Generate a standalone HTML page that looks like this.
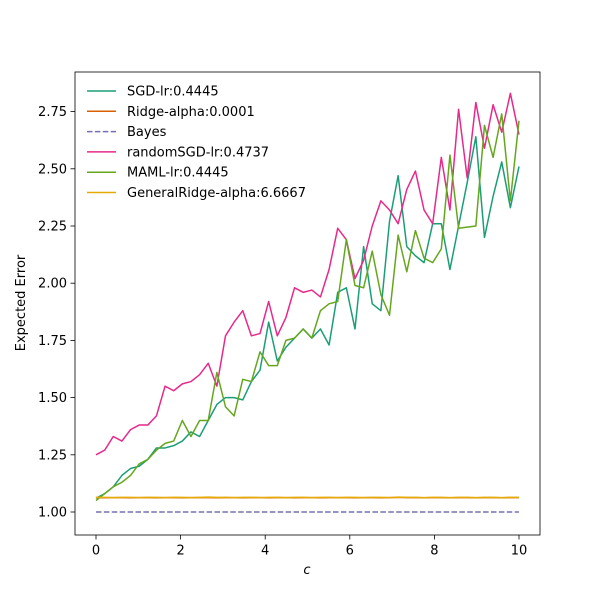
<!DOCTYPE html>
<html><head><meta charset="utf-8"><style>
html,body{margin:0;padding:0;background:#fff;}
svg{display:block;font-family:"DejaVu Sans","Liberation Sans",sans-serif;}
</style></head><body>
<svg id="chart" width="600" height="600"></svg>
<script>
const xMin=0,xMax=10,nPts=50;
const sgd=[1.06,1.08,1.11,1.16,1.19,1.20,1.23,1.28,1.28,1.29,1.31,1.35,1.33,1.40,1.47,1.50,1.50,1.49,1.57,1.62,1.83,1.66,1.72,1.76,1.80,1.76,1.80,1.73,1.96,1.98,1.80,2.16,1.91,1.88,2.27,2.47,2.16,2.12,2.09,2.26,2.26,2.06,2.25,2.44,2.64,2.20,2.38,2.53,2.33,2.51];
const ridge=[1.063,1.062,1.063,1.063,1.062,1.063,1.063,1.062,1.063,1.063,1.062,1.063,1.063,1.063,1.062,1.063,1.063,1.062,1.063,1.063,1.062,1.063,1.063,1.062,1.063,1.063,1.062,1.063,1.063,1.063,1.062,1.063,1.063,1.062,1.063,1.064,1.063,1.063,1.062,1.063,1.063,1.062,1.063,1.063,1.062,1.063,1.063,1.062,1.063,1.063];
const bayes=[1.0,1.0];
const randomSgd=[1.25,1.27,1.33,1.31,1.36,1.38,1.38,1.42,1.55,1.53,1.56,1.57,1.60,1.65,1.55,1.77,1.83,1.88,1.77,1.78,1.92,1.77,1.85,1.98,1.96,1.97,1.94,2.06,2.24,2.19,2.02,2.10,2.25,2.36,2.32,2.26,2.41,2.49,2.32,2.26,2.55,2.32,2.76,2.46,2.79,2.59,2.78,2.66,2.83,2.65];
const maml=[1.05,1.08,1.11,1.13,1.16,1.21,1.23,1.27,1.30,1.31,1.40,1.33,1.40,1.40,1.61,1.46,1.42,1.58,1.57,1.70,1.64,1.64,1.75,1.76,1.80,1.76,1.88,1.91,1.92,2.19,1.99,1.98,2.14,1.95,1.86,2.21,2.05,2.23,2.11,2.09,2.15,2.56,2.24,2.245,2.25,2.69,2.55,2.74,2.36,2.71];
const generalRidge=[1.064,1.064,1.063,1.064,1.064,1.063,1.064,1.064,1.063,1.064,1.064,1.063,1.064,1.065,1.064,1.064,1.063,1.064,1.064,1.063,1.064,1.064,1.063,1.064,1.064,1.063,1.064,1.064,1.063,1.064,1.064,1.063,1.064,1.064,1.063,1.065,1.064,1.064,1.063,1.064,1.064,1.063,1.064,1.064,1.063,1.064,1.064,1.063,1.064,1.064];
const xTicks=[0,2,4,6,8,10];
const yTicks=[1.00,1.25,1.50,1.75,2.00,2.25,2.50,2.75];
const yTickLabels=["1.00","1.25","1.50","1.75","2.00","2.25","2.50","2.75"];
const seriesNames=["SGD-lr:0.4445","Ridge-alpha:0.0001","Bayes","randomSGD-lr:0.4737","MAML-lr:0.4445","GeneralRidge-alpha:6.6667"];

const L=75,R=540,T=72,B=535;
const X=v=>96+(v-0)*(519-96)/10;
const Y=v=>512-(v-1)*228.8;
const NS="http://www.w3.org/2000/svg";
const svg=document.getElementById('chart');
function mk(tag,attrs,parent){const e=document.createElementNS(NS,tag);for(const k in attrs)e.setAttribute(k,attrs[k]);(parent||svg).appendChild(e);return e;}

const colors=["#1b9e77","#d95f02","#7570b3","#e7298a","#66a61e","#e6ab02"];
const data=[sgd,ridge,bayes,randomSgd,maml,generalRidge];
const keys=["sgd","ridge","bayes","random-sgd","maml","general-ridge"];
data.forEach((arr,si)=>{
  const n=arr.length;
  const pts=arr.map((v,i)=>X(xMin+i*(xMax-xMin)/(n-1)).toFixed(2)+","+Y(v).toFixed(2)).join(" ");
  const p=mk('polyline',{points:pts,fill:'none',stroke:colors[si],'stroke-width':1.5,'stroke-linejoin':'round'});
  if(si===2)p.setAttribute('stroke-dasharray','5.5,2.4');
  
  
});

const frame=mk('rect',{x:L,y:T,width:R-L,height:B-T,fill:'none',stroke:'#000','stroke-width':0.8});



xTicks.forEach(t=>{
  const x=X(t);
  mk('line',{x1:x,x2:x,y1:B,y2:B+4.5,stroke:'#000','stroke-width':0.8});
  const tx=mk('text',{x:x,y:B+19.5,'text-anchor':'middle','font-size':13,fill:'#000'});
  tx.textContent=t;
  
  
});
yTicks.forEach((t,i)=>{
  const y=Y(t);
  mk('line',{x1:L-4.5,x2:L,y1:y,y2:y,stroke:'#000','stroke-width':0.8});
  const tx=mk('text',{x:L-8,y:y+4.5,'text-anchor':'end','font-size':13,fill:'#000'});
  tx.textContent=yTickLabels[i];
  
  
});
const xt=mk('text',{x:307,y:574,'text-anchor':'middle','font-size':13,'font-style':'italic',fill:'#000'});
xt.textContent='c';


const yt=mk('text',{x:25,y:303,'text-anchor':'middle','font-size':13,fill:'#000',transform:'rotate(-90 25 303)'});
yt.textContent='Expected Error';



const lg=mk('g',{});


seriesNames.forEach((nm,i)=>{
  const y=91+i*20.3;
  const ln=mk('line',{x1:87,x2:116,y1:y,y2:y,stroke:colors[i],'stroke-width':1.5},lg);
  if(i===2)ln.setAttribute('stroke-dasharray','5.5,2.4');
  const tx=mk('text',{x:127,y:y+4.5,'font-size':13,fill:'#000'},lg);
  tx.textContent=nm;
  
  
});
</script>
</body></html>
